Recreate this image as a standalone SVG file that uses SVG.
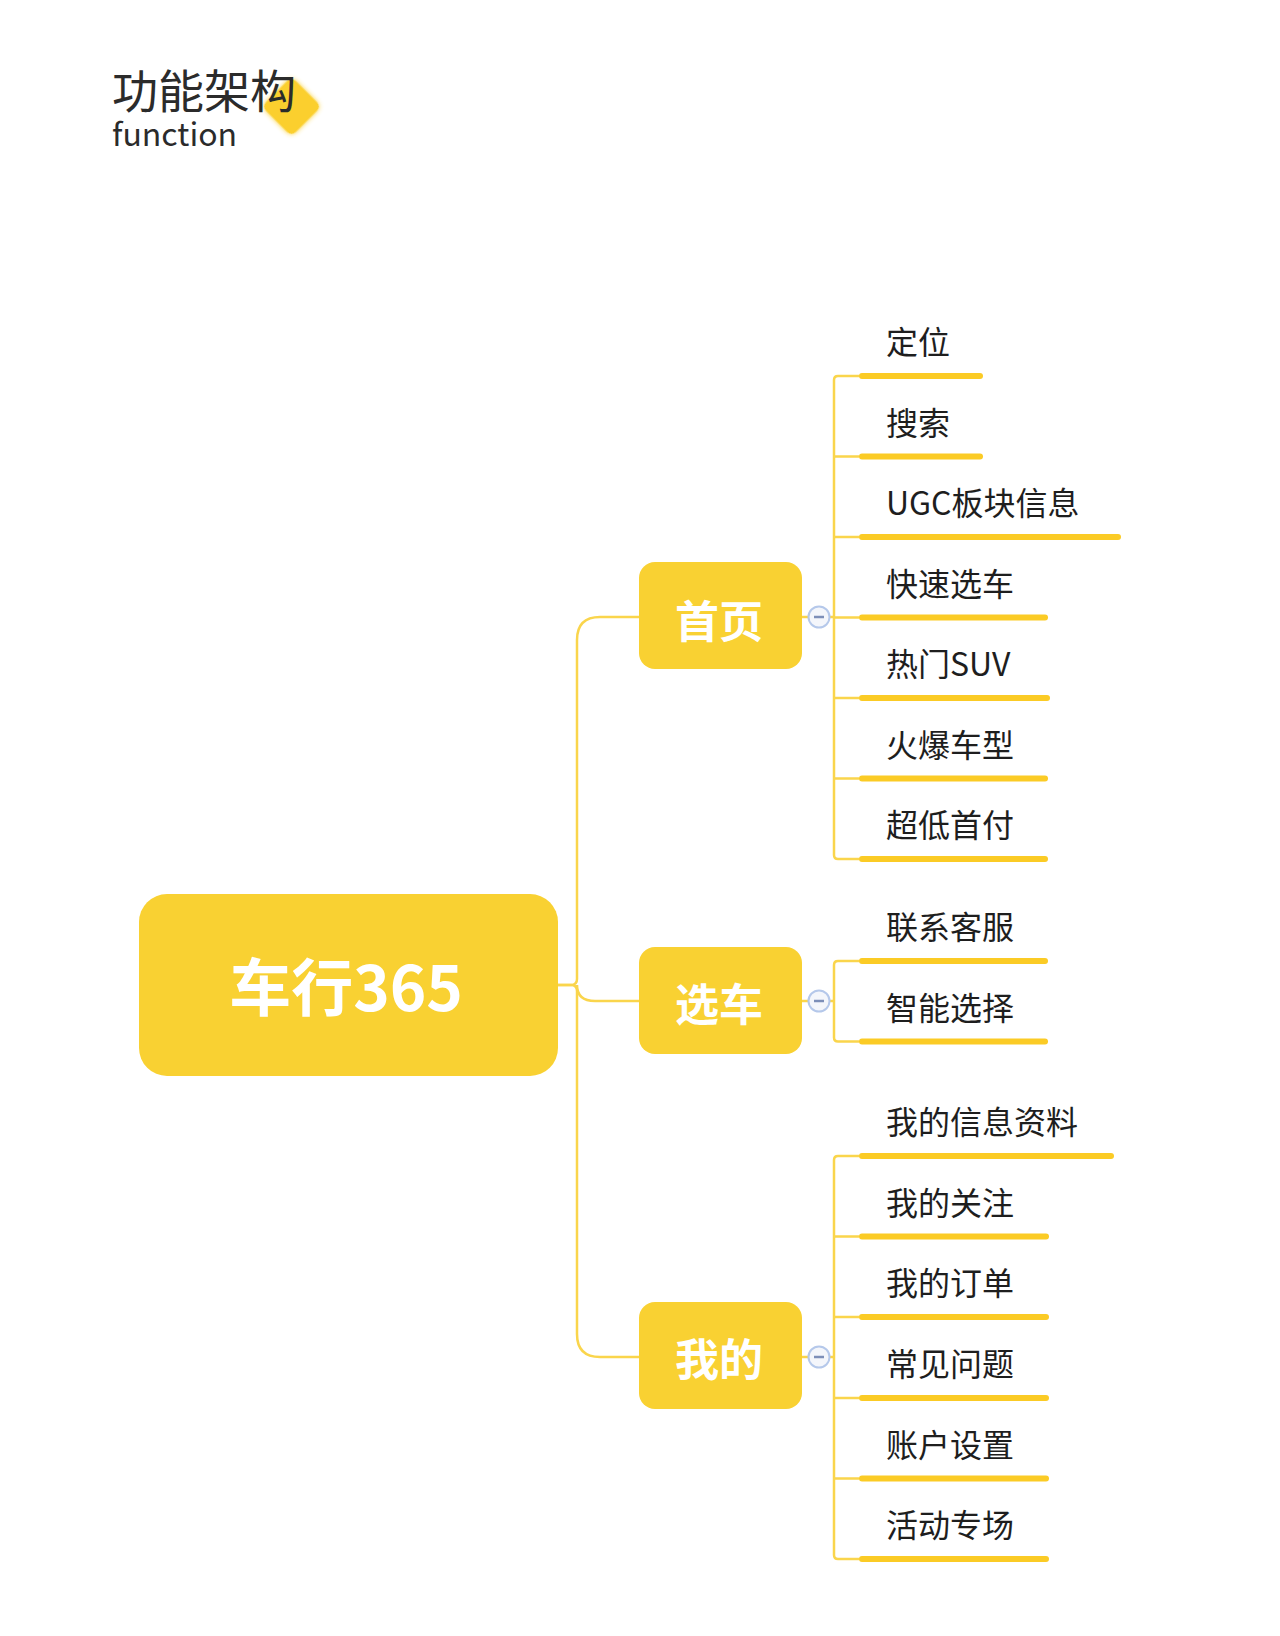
<svg xmlns="http://www.w3.org/2000/svg" width="1280" height="1636" viewBox="0 0 1280 1636">
<style>
.title{font-family:"Noto Sans CJK SC","Noto Sans",sans-serif;fill:#2b2b2b}
.node rect{fill:#F9D132}
.ntext{font-family:"Noto Sans CJK SC","Noto Sans",sans-serif;font-weight:700;fill:#ffffff;text-anchor:middle;dominant-baseline:central}
.leaf text{font-family:"Noto Sans CJK SC","Noto Sans",sans-serif;font-size:32px;fill:#1e1e1e}
.leaf line{stroke:#FBCB25;stroke-width:6;stroke-linecap:round}
.conn{fill:none;stroke:#FAD54C;stroke-width:2.5}
.col circle{fill:#f4f6fb;stroke:#b5c8ea;stroke-width:2}
.col line{stroke:#7d8fb8;stroke-width:2.5}
</style>
<defs>
<filter id="glow" x="-50%" y="-50%" width="200%" height="200%">
<feGaussianBlur in="SourceGraphic" stdDeviation="2.5" result="b"/>
<feMerge><feMergeNode in="b"/><feMergeNode in="SourceGraphic"/></feMerge>
</filter>
</defs>
<rect width="1280" height="1636" fill="#ffffff"/>
<g id="title">
<rect x="270.5" y="85.5" width="42" height="42" rx="6" fill="#FBCF2E" filter="url(#glow)" transform="rotate(45 291.5 106.5)"/>
<text class="title" x="112" y="108" font-size="46">功能架构</text>
<text class="title" x="112" y="146" font-size="32">function</text>
</g>
<g id="connectors">
<path class="conn" d="M558 985 H571 Q577 985 577 979 V640 Q577 617 600 617 H639"/>
<path class="conn" d="M558 985 H571 Q577 985 577 991 V1334 Q577 1357 600 1357 H639"/>
<path class="conn" d="M577 985 Q577 1001 595 1001 H639"/>
<path class="conn" d="M802 617 H808 M830 617 H834"/>
<path class="conn" d="M802 1001 H808 M830 1001 H834"/>
<path class="conn" d="M802 1357 H808 M830 1357 H834"/>
<path class="conn" d="M859 376 H838 Q834 376 834 380 V855 Q834 859 838 859 H859 M834 456.5 H859 M834 537 H859 M834 617.5 H859 M834 698 H859 M834 778.5 H859"/>
<path class="conn" d="M859 961 H838 Q834 961 834 965 V1037.5 Q834 1041.5 838 1041.5 H859"/>
<path class="conn" d="M859 1156 H838 Q834 1156 834 1160 V1555 Q834 1559 838 1559 H859 M834 1236.6 H859 M834 1317 H859 M834 1398 H859 M834 1478.5 H859"/>
</g>
<g id="root" class="node">
<rect x="139" y="894" width="419" height="182" rx="28"/>
<text class="ntext" x="346" y="984" font-size="62">车行365</text>
</g>
<g id="node-shouye" class="node">
<rect x="639" y="562" width="163" height="107" rx="16"/>
<text class="ntext" x="719" y="619" font-size="44">首页</text>
</g>
<g id="node-xuanche" class="node">
<rect x="639" y="947" width="163" height="107" rx="16"/>
<text class="ntext" x="719" y="1002" font-size="44">选车</text>
</g>
<g id="node-wode" class="node">
<rect x="639" y="1302" width="163" height="107" rx="16"/>
<text class="ntext" x="719" y="1357" font-size="44">我的</text>
</g>
<g class="col">
<g id="collapse-shouye"><circle cx="819" cy="617" r="10.5"/><line x1="814" y1="617" x2="824" y2="617"/></g>
<g id="collapse-xuanche"><circle cx="819" cy="1001" r="10.5"/><line x1="814" y1="1001" x2="824" y2="1001"/></g>
<g id="collapse-wode"><circle cx="819" cy="1357" r="10.5"/><line x1="814" y1="1357" x2="824" y2="1357"/></g>
</g>
<g id="leaf-dingwei" class="leaf"><text x="886" y="354">定位</text><line x1="862" y1="376" x2="980" y2="376"/></g>
<g id="leaf-sousuo" class="leaf"><text x="886" y="434.5">搜索</text><line x1="862" y1="456.5" x2="980" y2="456.5"/></g>
<g id="leaf-ugc" class="leaf"><text x="886" y="515">UGC板块信息</text><line x1="862" y1="537" x2="1118" y2="537"/></g>
<g id="leaf-kuaisu" class="leaf"><text x="886" y="595.5">快速选车</text><line x1="862" y1="617.5" x2="1045" y2="617.5"/></g>
<g id="leaf-remen" class="leaf"><text x="886" y="676">热门SUV</text><line x1="862" y1="698" x2="1047" y2="698"/></g>
<g id="leaf-huobao" class="leaf"><text x="886" y="756.5">火爆车型</text><line x1="862" y1="778.5" x2="1045" y2="778.5"/></g>
<g id="leaf-chaodi" class="leaf"><text x="886" y="837">超低首付</text><line x1="862" y1="859" x2="1045" y2="859"/></g>
<g id="leaf-lianxi" class="leaf"><text x="886" y="939">联系客服</text><line x1="862" y1="961" x2="1045" y2="961"/></g>
<g id="leaf-zhineng" class="leaf"><text x="886" y="1019.5">智能选择</text><line x1="862" y1="1041.5" x2="1045" y2="1041.5"/></g>
<g id="leaf-xinxi" class="leaf"><text x="886" y="1134">我的信息资料</text><line x1="862" y1="1156" x2="1111" y2="1156"/></g>
<g id="leaf-guanzhu" class="leaf"><text x="886" y="1214.6">我的关注</text><line x1="862" y1="1236.6" x2="1046" y2="1236.6"/></g>
<g id="leaf-dingdan" class="leaf"><text x="886" y="1295">我的订单</text><line x1="862" y1="1317" x2="1046" y2="1317"/></g>
<g id="leaf-wenti" class="leaf"><text x="886" y="1376">常见问题</text><line x1="862" y1="1398" x2="1046" y2="1398"/></g>
<g id="leaf-zhanghu" class="leaf"><text x="886" y="1456.5">账户设置</text><line x1="862" y1="1478.5" x2="1046" y2="1478.5"/></g>
<g id="leaf-huodong" class="leaf"><text x="886" y="1537">活动专场</text><line x1="862" y1="1559" x2="1046" y2="1559"/></g>
</svg>
